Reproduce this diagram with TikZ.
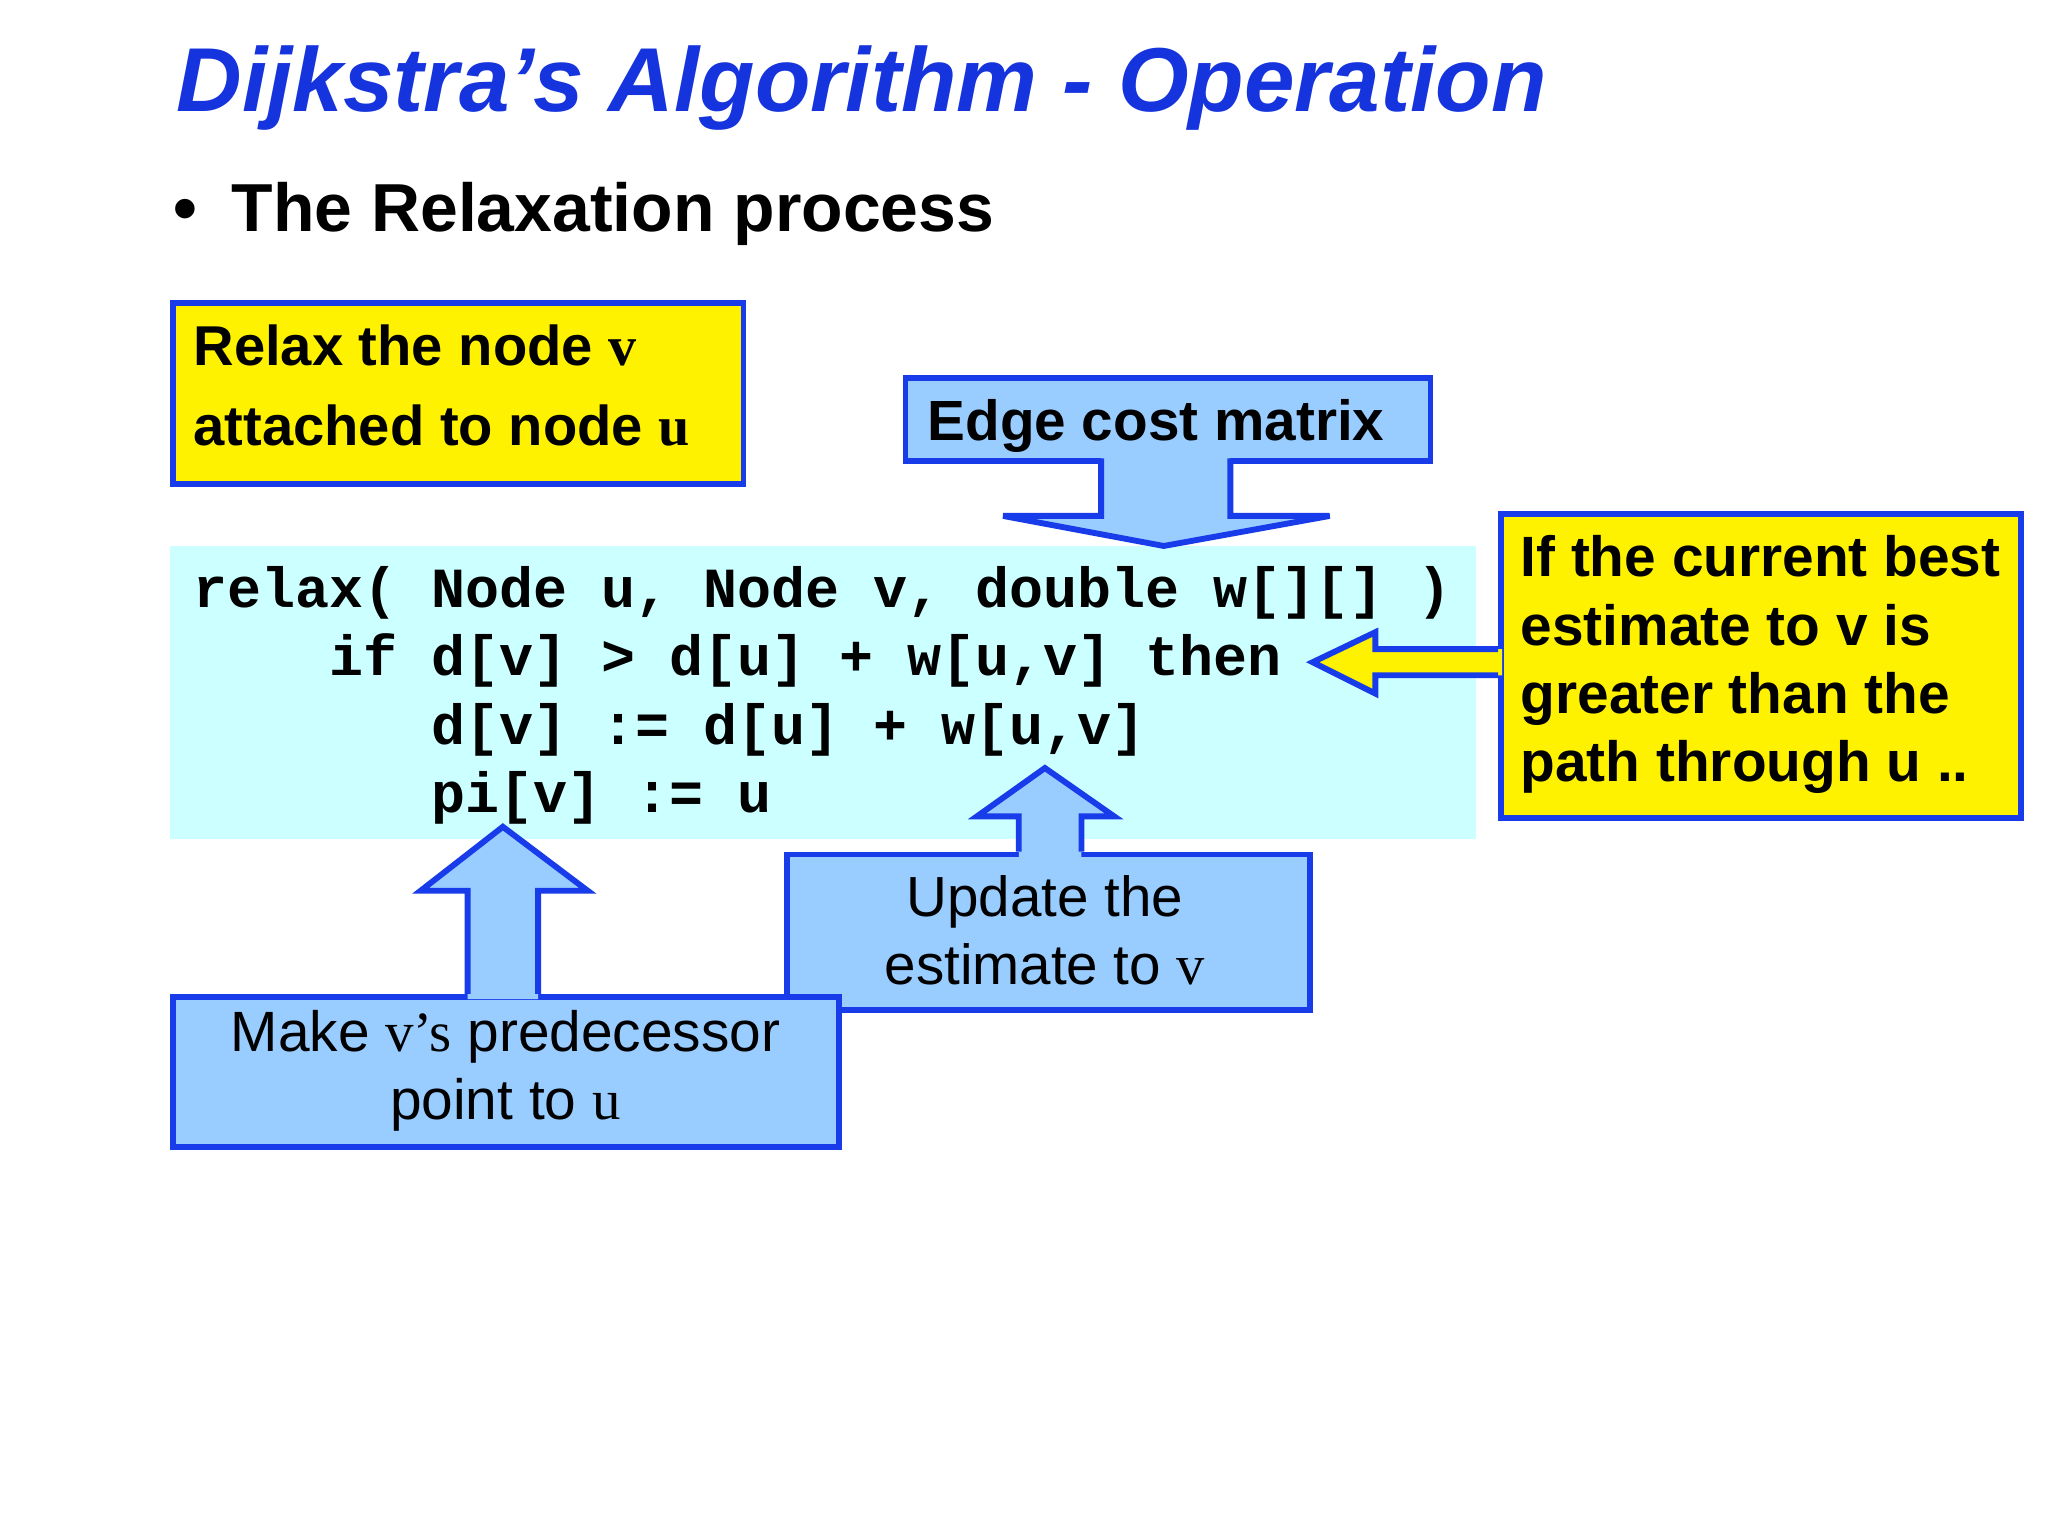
\documentclass[tikz,border=0pt]{standalone}
\usepackage{fontspec}
\setmainfont{Liberation Sans}
\setmonofont{Liberation Mono}
\newfontfamily\tms{Liberation Serif}
\definecolor{tblue}{RGB}{22,52,222}
\definecolor{bord}{RGB}{25,60,235}
\definecolor{lblue}{RGB}{153,204,255}
\definecolor{codebg}{RGB}{204,255,255}
\begin{document}
\begin{tikzpicture}[x=1pt,y=-1pt,
  ybox/.style={draw=bord,line width=4.5pt,fill=yellow,anchor=north west,inner sep=0pt},
  bbox/.style={draw=bord,line width=4.5pt,fill=lblue,anchor=north west,inner sep=0pt},
  arrfill/.style={fill=lblue},
  arrline/.style={draw=bord,line width=4.5pt,line join=miter}]
\useasboundingbox[fill=white] (0,0) rectangle (1568,1176);
\node[anchor=base west,text=tblue,font=\fontsize{69.5}{76}\selectfont\bfseries\itshape,inner sep=0pt] (title) at (135,85) {Dijkstra’s Algorithm - Operation};
\node[anchor=base west,font=\fontsize{52}{58}\selectfont\bfseries,inner sep=0pt] (bul) at (133,177) {•\hspace{26pt}The Relaxation process};
% code background
\node[fill=codebg,minimum width=1000pt,minimum height=224pt,anchor=north west,inner sep=0pt] (code) at (130,418) {};
\begin{scope}[font=\fontsize{43.4}{52}\selectfont\ttfamily\bfseries]
\node[anchor=base west,inner sep=0pt] (l1) at (148,465) {relax( Node u, Node v, double w[][] )};
\node[anchor=base west,inner sep=0pt] (l2) at (252,517) {if d[v] > d[u] + w[u,v] then};
\node[anchor=base west,inner sep=0pt] (l3) at (330,570) {d[v] := d[u] + w[u,v]};
\node[anchor=base west,inner sep=0pt] (l4) at (330,622) {pi[v] := u};
\end{scope}
% yellow box top-left
\node[ybox,minimum width=437pt,minimum height=138pt] (relax) at (130,230) {};
\node[anchor=base west,font=\fontsize{43}{48}\selectfont\bfseries,inner sep=0pt] (r1) at (148,280) {Relax the node {\tms v}};
\node[anchor=base west,font=\fontsize{43}{48}\selectfont\bfseries,inner sep=0pt] (r2) at (148,341) {attached to node {\tms u}};
% edge cost matrix box + arrow
\node[bbox,minimum width=402pt,minimum height=64pt] (edge) at (691,287) {};
\node[anchor=base west,font=\fontsize{43.4}{48}\selectfont\bfseries,inner sep=0pt] (et) at (710,337) {Edge cost matrix};
\coordinate (etip) at (891,418);
\fill[arrfill] (843,347) -- (843,395) -- (768,395) -- (etip) -- (1018,395) -- (942,395) -- (942,347) -- cycle;
\draw[arrline] (843,351) -- (843,395) -- (768,395) -- (etip) -- (1018,395) -- (942,395) -- (942,351);
% right yellow box + arrow
\node[ybox,minimum width=398pt,minimum height=233pt] (ifb) at (1147,391) {};
\begin{scope}[font=\fontsize{43.5}{48}\selectfont\bfseries]
\node[anchor=base west,inner sep=0pt] (i1) at (1164,441) {If the current best};
\node[anchor=base west,inner sep=0pt] (i2) at (1164,494) {estimate to v is};
\node[anchor=base west,inner sep=0pt] (i3) at (1164,546) {greater than the};
\node[anchor=base west,inner sep=0pt] (i4) at (1164,598) {path through u ..};
\end{scope}
\coordinate (itip) at (1005,507);
\fill[yellow] (1150,497) -- (1053,497) -- (1053,484) -- (itip) -- (1053,531) -- (1053,517) -- (1150,517) -- cycle;
\draw[arrline] (1147,497) -- (1053,497) -- (1053,484) -- (itip) -- (1053,531) -- (1053,517) -- (1147,517);
% update box + arrow
\node[bbox,minimum width=401pt,minimum height=119pt] (upd) at (600,652) {};
\node[font=\fontsize{43.3}{52}\selectfont,align=center,inner sep=0pt] (ut) at (800,712) {Update the\\estimate to {\tms v}};
\coordinate (utip) at (800,588);
\fill[arrfill] (780,656) -- (780,625) -- (748,625) -- (utip) -- (853,625) -- (828,625) -- (828,656) -- cycle;
\draw[arrline] (780,652) -- (780,625) -- (748,625) -- (utip) -- (853,625) -- (828,625) -- (828,652);
% make box + arrow
\node[bbox,minimum width=510pt,minimum height=115pt] (mk) at (130,761) {};
\node[font=\fontsize{43.5}{52}\selectfont,align=center,inner sep=0pt] (mt) at (387,820) {Make {\tms v’s} predecessor\\point to {\tms u}};
\coordinate (mtip) at (385,633);
\fill[arrfill] (358,765) -- (358,682) -- (322,682) -- (mtip) -- (450,682) -- (412,682) -- (412,765) -- cycle;
\draw[arrline] (358,761) -- (358,682) -- (322,682) -- (mtip) -- (450,682) -- (412,682) -- (412,761);
\end{tikzpicture}
\end{document}
